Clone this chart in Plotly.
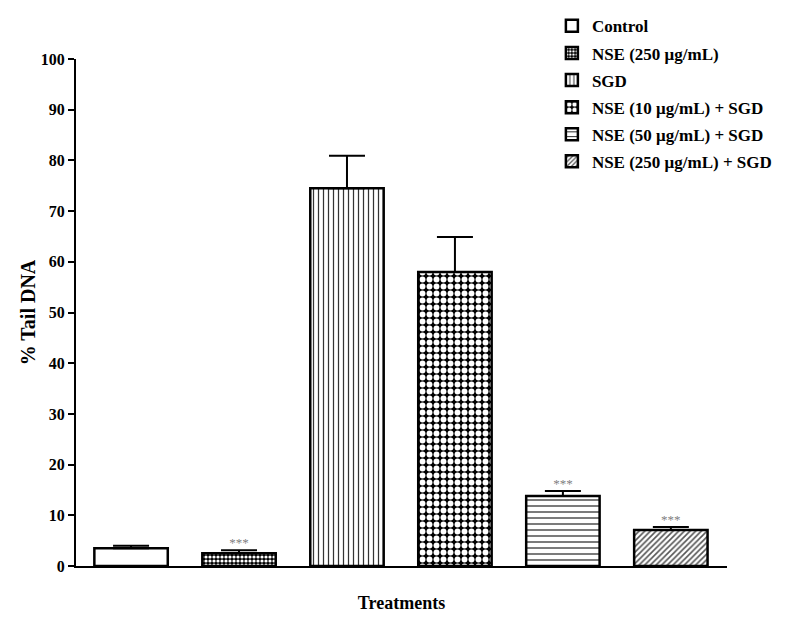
import plotly.graph_objects as go

groups = ["Control", "NSE (250 μg/mL)", "SGD", "NSE (10 μg/mL) + SGD",
          "NSE (50 μg/mL) + SGD", "NSE (250 μg/mL) + SGD"]
tail_dna = [3.5, 2.5, 74.5, 58.0, 13.8, 7.1]
sem = [0.5, 0.6, 6.4, 6.9, 1.0, 0.6]
signif = ["", "***", "", "", "***", "***"]

patterns = [
    dict(shape=""),
    dict(shape=".", bgcolor="black", fgcolor="white", size=4, solidity=0.5, fillmode="replace", fgopacity=1),
    dict(shape="|", bgcolor="white", fgcolor="#333333", size=5, solidity=0.25, fillmode="replace", fgopacity=1),
    dict(shape=".", bgcolor="black", fgcolor="white", size=7, solidity=0.55, fillmode="replace", fgopacity=1),
    dict(shape="-", bgcolor="white", fgcolor="#222222", size=6, solidity=0.2, fillmode="replace", fgopacity=1),
    dict(shape="/", bgcolor="white", fgcolor="#555555", size=4, solidity=0.4, fillmode="replace", fgopacity=1),
]

fig = go.Figure()
for i, g in enumerate(groups):
    fig.add_trace(go.Bar(
        x=[i], y=[tail_dna[i]], name=g, width=0.68, legendgroup=f"g{i}",
        marker=dict(color="white", line=dict(color="black", width=2.5), pattern=patterns[i]),
        error_y=dict(type="data", symmetric=False, array=[sem[i]], arrayminus=[0],
                     color="black", thickness=2, width=18),
    ))

star_x = [i for i, s in enumerate(signif) if s]
fig.add_trace(go.Scatter(
    x=star_x, y=[tail_dna[i] + sem[i] for i in star_x],
    text=[signif[i] for i in star_x], mode="text", textposition="top center",
    textfont=dict(family="Liberation Serif", size=13, color="#808080"),
    showlegend=False, hoverinfo="skip",
))

fig.update_layout(
    width=794, height=628,
    paper_bgcolor="white", plot_bgcolor="white",
    margin=dict(l=68, r=75, t=51, b=70, autoexpand=False),
    barmode="overlay",
    font=dict(family="Liberation Serif", color="black", size=15),
    legend=dict(x=0.731, y=1.1, xanchor="left", yanchor="top",
                font=dict(family="Liberation Serif", size=17, color="black", weight="bold"),
                tracegroupgap=2, itemwidth=30, bgcolor="rgba(0,0,0,0)"),
    showlegend=True,
)
fig.update_xaxes(range=[-0.51, 5.52], showticklabels=False, ticks="", showgrid=False,
                 zeroline=False, showline=True, linecolor="black", linewidth=2,
                 title=dict(text="<b>Treatments</b>", font=dict(size=18), standoff=29))
fig.update_yaxes(range=[0, 100], dtick=10, showgrid=False, zeroline=False,
                 showline=True, linecolor="black", linewidth=2,
                 ticks="outside", ticklen=6, tickwidth=2, tickcolor="black",
                 tickfont=dict(size=16, weight="bold"),
                 title=dict(text="<b>% Tail DNA</b>", font=dict(size=20), standoff=0))

fig.write_html("out.html")
